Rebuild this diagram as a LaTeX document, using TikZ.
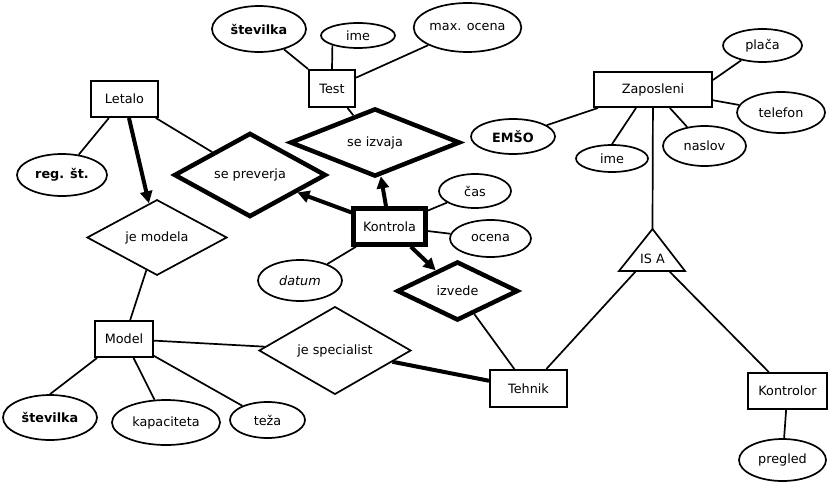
\documentclass[tikz,border=0pt]{standalone}
\usepackage{fontspec}
\setmainfont{DejaVu Sans}
\usetikzlibrary{shapes.geometric,arrows.meta}
\begin{document}
\begin{tikzpicture}[x=1pt,y=-1pt,
  every node/.style={font=\fontsize{12.8}{14}\selectfont, inner sep=0pt},
  entity/.style={draw, rectangle, line width=2pt},
  strongent/.style={draw, rectangle, line width=4.5pt},
  attr/.style={draw, ellipse, line width=1.7pt},
  keyattr/.style={attr, font=\fontsize{12.8}{14}\selectfont\bfseries},
  rel/.style={draw, diamond, line width=1.7pt},
  idrel/.style={draw, diamond, line width=4.5pt},
  link/.style={line width=1.7pt},
  heavy/.style={line width=4pt},
  towards/.style={line width=4pt, -{Triangle[length=12pt,width=12pt]}},
]
\useasboundingbox (0,0) rectangle (829,484);

% entities
\node[entity, minimum width=67, minimum height=36] (letalo) at (124.5,99) {Letalo};
\node[entity, minimum width=46, minimum height=37] (test) at (332,88.5) {Test};
\node[entity, minimum width=118, minimum height=35] (zaposleni) at (653,89.5) {Zaposleni};
\node[entity, minimum width=77, minimum height=37] (tehnik) at (528.5,388.5) {Tehnik};
\node[entity, minimum width=79, minimum height=36] (kontrolor) at (787.5,391) {Kontrolor};
\node[entity, minimum width=58, minimum height=36] (model) at (124,339) {Model};
\node[strongent, minimum width=72, minimum height=36] (kontrola) at (389.5,226.5) {Kontrola};

% relationships
\node[idrel, minimum width=152, minimum height=76] (sepreverja) at (250,175) {se preverja};
\node[idrel, minimum width=170, minimum height=54] (seizvaja) at (375,142.5) {se izvaja};
\node[idrel, minimum width=121, minimum height=59] (izvede) at (457.5,291) {izvede};
\node[rel, minimum width=140, minimum height=69] (jemodela) at (157,237.5) {je modela};
\node[rel, minimum width=152, minimum height=75] (jespec) at (335,350.5) {je specialist};

% attributes
\node[keyattr, minimum width=94, minimum height=46] (stev1) at (259,29) {številka};
\node[attr, minimum width=74, minimum height=25] (ime1) at (358,35.5) {ime};
\node[attr, minimum width=107, minimum height=49] (maxocena) at (467.5,27.5) {max. ocena};
\node[keyattr, minimum width=90, minimum height=42] (regst) at (62,175) {reg. št.};
\node[keyattr, minimum width=84, minimum height=35] (emso) at (513,136.5) {EMŠO};
\node[attr, minimum width=79, minimum height=33] (placa) at (762.5,45.5) {plača};
\node[attr, minimum width=88, minimum height=41] (telefon) at (781,112.5) {telefon};
\node[attr, minimum width=83, minimum height=40] (naslov) at (704.5,146) {naslov};
\node[attr, minimum width=72, minimum height=27] (ime2) at (612,158.5) {ime};
\node[attr, minimum width=72, minimum height=34] (cas) at (475,191) {čas};
\node[attr, minimum width=81, minimum height=37] (ocena) at (490.5,238.5) {ocena};
\node[attr, minimum width=84, minimum height=41, font=\fontsize{12.8}{14}\selectfont\itshape] (datum) at (300,280.5) {datum};
\node[keyattr, minimum width=94, minimum height=45] (stev2) at (50,417.5) {številka};
\node[attr, minimum width=108, minimum height=45] (kapaciteta) at (166,422.5) {kapaciteta};
\node[attr, minimum width=75, minimum height=36] (teza) at (267.5,420) {teža};
\node[attr, minimum width=87, minimum height=42] (pregled) at (782.5,460) {pregled};

% IS A triangle
\draw[link, line join=miter] (652.5,229) coordinate (isatop) -- (685,271) -- (619,271) -- cycle;
\node (isa) at (652.5,259) {IS A};
\coordinate (isaL) at (636,271);
\coordinate (isaR) at (669,271);

% connectors
\draw[link] (letalo) -- (regst);
\draw[link] (letalo) -- (sepreverja);
\draw[towards] (letalo) -- (jemodela);
\draw[link] (jemodela) -- (model);

\draw[link] (test) -- (stev1);
\draw[link] (test.north) -- (ime1.201);
\draw[link] (test) -- (maxocena);
\draw[link] (test) -- (seizvaja);

\draw[link] (emso) -- (zaposleni);
\draw[link] (zaposleni.9) -- (placa);
\draw[link] (zaposleni) -- (telefon);
\draw[link] (zaposleni) -- (naslov);
\draw[link] ([xshift=-17pt]zaposleni.south) -- (ime2.north);
\draw[link] (zaposleni) -- (isatop);
\draw[link] (isaL) -- (tehnik);
\draw[link] (isaR) -- (kontrolor);
\draw[link] (kontrolor) -- (pregled);

\draw[towards] (kontrola) -- (sepreverja);
\draw[towards] (kontrola) -- (seizvaja);
\draw[towards] (kontrola) -- (izvede);
\draw[link] (kontrola) -- (cas);
\draw[link] (kontrola) -- (ocena);
\draw[link] (kontrola) -- (datum);

\draw[link] (izvede) -- (tehnik);
\draw[heavy] (jespec) -- (tehnik);
\draw[link] (model) -- (jespec);
\draw[link] ([xshift=3pt]model.south west) -- (stev2.north);
\draw[link] (model) -- (kapaciteta);
\draw[link] (model) -- (teza);
\end{tikzpicture}
\end{document}
